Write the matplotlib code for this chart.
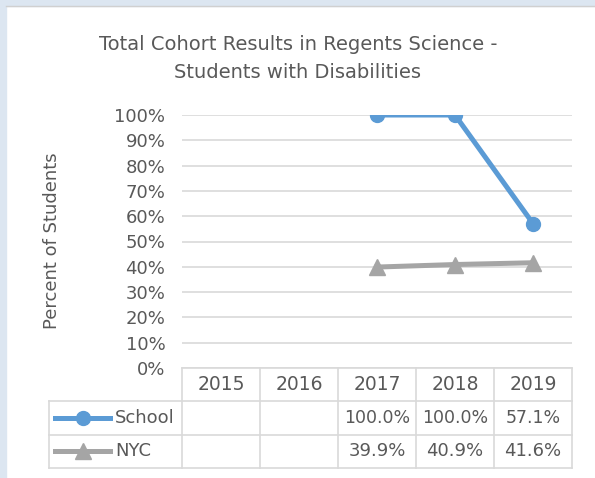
import matplotlib
matplotlib.use("Agg")
import matplotlib.pyplot as plt
import numpy as np
from matplotlib.lines import Line2D
from matplotlib.patches import Rectangle

years = ["2015", "2016", "2017", "2018", "2019"]
school = [np.nan, np.nan, 100.0, 100.0, 57.1]
nyc = [np.nan, np.nan, 39.9, 40.9, 41.6]
school_labels = ["", "", "100.0%", "100.0%", "57.1%"]
nyc_labels = ["", "", "39.9%", "40.9%", "41.6%"]

TXT = "#595959"
GRID = "#d9d9d9"
BLUE = "#5b9bd5"
GRAY = "#a5a5a5"
W, H = 595, 478

plt.rcParams["font.family"] = ["DejaVu Sans"]
fig = plt.figure(figsize=(W / 100, H / 100), dpi=100)
fig.patch.set_facecolor("white")

# light frame strips like the screenshot
fig.add_artist(Rectangle((0, 1 - 6 / H), 1, 6 / H, transform=fig.transFigure,
                         color="#dce6f1", zorder=0))
fig.add_artist(Rectangle((0, 0), 6 / W, 1, transform=fig.transFigure,
                         color="#dce6f1", zorder=0))
fig.add_artist(Line2D([6 / W, 1], [1 - 6 / H, 1 - 6 / H], transform=fig.transFigure,
                      color="#d0d0d0", lw=1))


def fx(px):
    return px / W


def fy(px):
    return 1 - px / H


x = np.arange(len(years))
ax = fig.add_axes([fx(182), fy(368), fx(572) - fx(182), fy(115) - fy(368)])
ax.set_xlim(-0.5, len(years) - 0.5)
ax.set_ylim(0, 100)
ax.set_yticks(np.arange(0, 101, 10))
ax.set_yticklabels([f"{v}%" for v in range(0, 101, 10)])
ax.tick_params(axis="y", length=0, pad=12, labelsize=13, labelcolor=TXT)
ax.set_xticks([])
for s in ax.spines.values():
    s.set_visible(False)
ax.grid(axis="y", color=GRID, lw=1.2)
ax.set_axisbelow(True)

ax.plot(x, school, color=BLUE, lw=3.6, marker="o", ms=10, zorder=3)
ax.plot(x, nyc, color=GRAY, lw=3.6, marker="^", ms=12, zorder=3)

fig.text(fx(52), fy(241), "Percent of Students", rotation=90,
         ha="center", va="center", fontsize=13, color=TXT)

fig.text(fx(298), fy(44), "Total Cohort Results in Regents Science -",
         ha="center", va="center", fontsize=14, color=TXT)
fig.text(fx(298), fy(72), "Students with Disabilities",
         ha="center", va="center", fontsize=14, color=TXT)

# data table under the axis, columns follow the category scale
tab = fig.add_axes([fx(182), fy(468), fx(572) - fx(182), fy(368) - fy(468)])
tab.set_xlim(ax.get_xlim())
tab.set_ylim(0, 3)
tab.axis("off")
left = -0.5 - (182 - 49) / 78.0
right = len(years) - 0.5
kw = dict(color=GRID, lw=1.2, clip_on=False)
tab.plot([-0.5, right], [3, 3], **kw)
for yy in [2, 1, 0]:
    tab.plot([left, right], [yy, yy], **kw)
tab.plot([left, left], [0, 2], **kw)
for xx in np.arange(-0.5, len(years), 1.0):
    tab.plot([xx, xx], [0, 3], **kw)

for i, yr in enumerate(years):
    tab.text(i, 2.5, yr, ha="center", va="center", fontsize=13.5, color=TXT)
    tab.text(i, 1.5, school_labels[i], ha="center", va="center", fontsize=12.5, color=TXT)
    tab.text(i, 0.5, nyc_labels[i], ha="center", va="center", fontsize=13, color=TXT)

kx0 = left + 6 / 78.0
kx1 = left + 61 / 78.0
kxm = (kx0 + kx1) / 2
tab.plot([kx0, kx1], [1.5, 1.5], color=BLUE, lw=3.6, clip_on=False)
tab.plot([kxm], [1.5], color=BLUE, marker="o", ms=10, clip_on=False)
tab.plot([kx0, kx1], [0.5, 0.5], color=GRAY, lw=3.6, clip_on=False)
tab.plot([kxm], [0.5], color=GRAY, marker="^", ms=12, clip_on=False)
tab.text(left + 66 / 78.0, 1.5, "School", ha="left", va="center", fontsize=13, color=TXT)
tab.text(left + 66 / 78.0, 0.5, "NYC", ha="left", va="center", fontsize=13, color=TXT)

fig.savefig("out.png", dpi=100)
